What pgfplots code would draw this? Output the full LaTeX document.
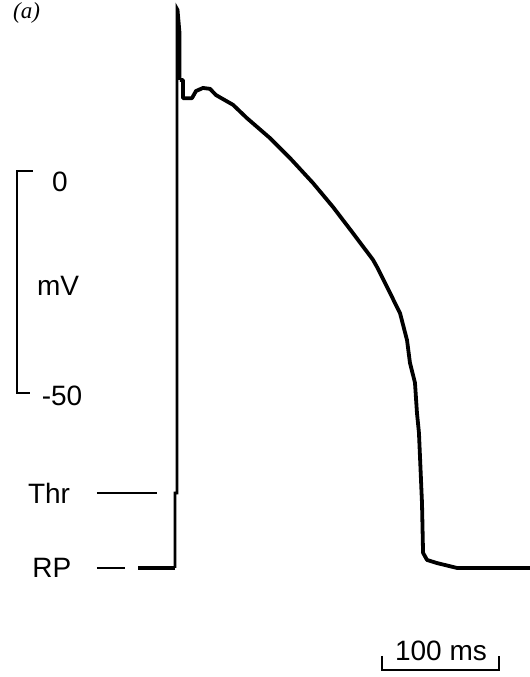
\documentclass[border=0pt]{standalone}
\usepackage{pgfplots}
\pgfplotsset{compat=1.18}
\usepackage{fontspec}
\setmainfont{Liberation Sans}
\newfontfamily\serifit{Liberation Serif}
\newcommand\lbl{\fontsize{28bp}{32bp}\selectfont}
\begin{document}
\begin{tikzpicture}
\useasboundingbox (0,0) rectangle (530bp,677bp);
\begin{axis}[
  at={(0,0)}, anchor=south west,
  width=530bp, height=677bp, scale only axis,
  hide axis, clip=false,
  xmin=-151.28, xmax=301.71,
  ymin=-113.96, ymax=38.51,
]
% resting potential before stimulus
\addplot[black, line width=4.5bp, line cap=butt] coordinates {(-33.3,-89.4) (-1.7,-89.4)};
% upstroke
\addplot[black, line width=2.8bp, line join=miter] coordinates {
(-1.7,-89.4) (-1.7,-72.5) (0,-72.5) (0,36.7) (0.85,36.3) (2.56,31.1) (2.56,20.5)};
% plateau and repolarisation
\addplot[black, line width=3.8bp, line join=round] coordinates {
(2.56,20.5) (5.1,20.5) (5.1,16.4) (12.8,16.4) (16.2,18.0) (22.2,18.7) (28.2,18.5)
(33.3,17.1) (47.9,14.9) (59.8,11.9) (79.5,7.4) (96.6,2.9) (116.2,-2.7)
(133.3,-8.1) (150.4,-14.0) (167.5,-20.0) (170.9,-21.6) (182.1,-27.5)
(190.6,-32.0) (196.6,-38.1) (199.1,-43.2) (203.4,-47.7) (205.1,-54.5)
(206.8,-59.0) (209.4,-74.8) (210.3,-86.0) (213.7,-87.6) (222.2,-88.3)
(239.3,-89.4) (301.7,-89.4)};
% voltage scale bar
\addplot[black, line width=2.6bp, line join=miter] coordinates {
(-123.1,0) (-136.8,0) (-136.8,-50) (-125.6,-50)};
% threshold and resting potential markers
\addplot[black, line width=1.6bp] coordinates {(-68.4,-72.5) (-17.1,-72.5)};
\addplot[black, line width=1.8bp] coordinates {(-68.4,-89.4) (-44.4,-89.4)};
% time scale bar
\addplot[black, line width=2.4bp, line join=miter] coordinates {
(175,-109.2) (175,-112.4) (275,-112.4) (275,-109.2)};
\node[font=\lbl] at (axis cs:-100,-2.5) {0};
\node[font=\lbl] at (axis cs:-101.7,-25.9) {mV};
\node[font=\lbl] at (axis cs:-98.3,-50.7) {-50};
\node[font=\lbl] at (axis cs:-109.4,-72.5) {Thr};
\node[font=\lbl] at (axis cs:-107,-89.4) {RP};
\node[font=\lbl] at (axis cs:225.6,-108.1) {100 ms};
\node[anchor=base west, font=\fontsize{23bp}{27bp}\selectfont\serifit\itshape, inner sep=0pt] at (axis cs:-140.2,34.3) {(a)};
\end{axis}
\end{tikzpicture}
\end{document}
